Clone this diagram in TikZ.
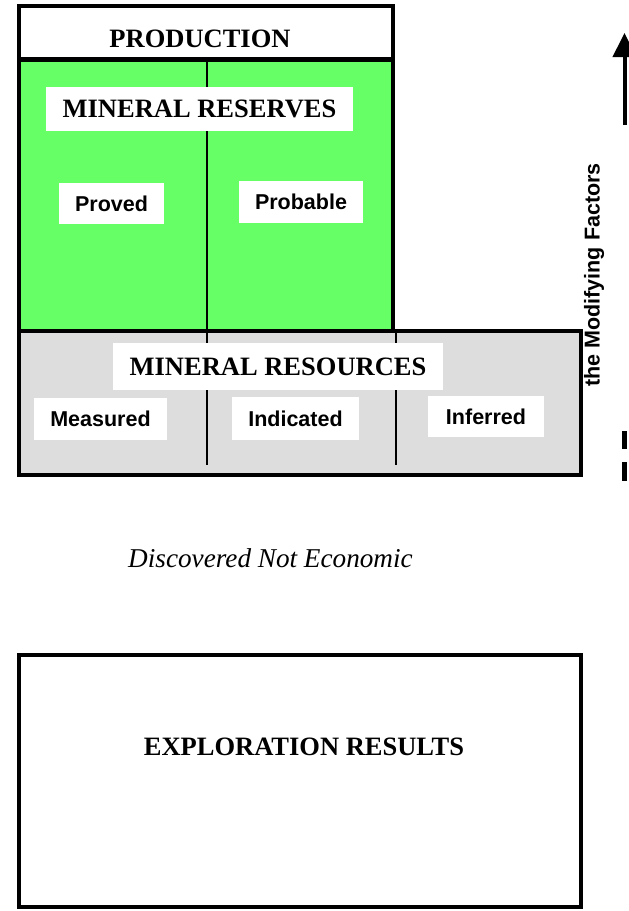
\documentclass[tikz,border=0pt]{standalone}
\usepackage{fontspec}
\setmainfont{Liberation Serif}
\setsansfont{Liberation Sans}
\usetikzlibrary{arrows.meta}
\definecolor{resgreen}{HTML}{66FF66}
\definecolor{resgray}{HTML}{DDDDDD}
\tikzset{
  thickbox/.style={draw=black,line width=4.5pt},
  thinline/.style={draw=black,line width=1.3pt},
  whitebox/.style={fill=white,inner sep=0pt,outer sep=0pt},
  bigtitle/.style={font=\fontsize{26.5}{30}\selectfont\bfseries},
  smalllabel/.style={font=\fontsize{21.5}{25}\selectfont\sffamily\bfseries},
}
\begin{document}
\begin{tikzpicture}[x=1pt,y=-1pt]
\useasboundingbox (0,0) rectangle (629,911);
% fills
\fill[resgreen] (19,60) rectangle (393,331);
\fill[resgray] (19,331) rectangle (581,475);
% dividers
\draw[thinline] (207,60) -- (207,465);
\draw[thinline] (396,331) -- (396,465);
% white label boxes
\node[whitebox,minimum width=307pt,minimum height=44pt,bigtitle] (reserves) at (199.5,109) {MINERAL RESERVES};
\node[whitebox,minimum width=105pt,minimum height=41pt,smalllabel] (proved) at (111.5,203.5) {Proved};
\node[whitebox,minimum width=124pt,minimum height=42pt,smalllabel] (probable) at (301,202) {Probable};
\node[whitebox,minimum width=330pt,minimum height=47pt,bigtitle] (resources) at (278,366.5) {MINERAL RESOURCES};
\node[whitebox,minimum width=133pt,minimum height=42pt,smalllabel] (measured) at (100.5,419) {Measured};
\node[whitebox,minimum width=127pt,minimum height=43pt,smalllabel] (indicated) at (295.5,418.5) {Indicated};
\node[whitebox,minimum width=116pt,minimum height=41pt,smalllabel] (inferred) at (486,416.5) {Inferred};
% borders
\draw[thickbox] (19,6) rectangle (393,331);
\draw[thickbox] (19,59.5) -- (393,59.5);
\draw[thickbox] (19,331) rectangle (581,475);
\draw[thickbox] (19,655) rectangle (581,907);
% texts
\node[bigtitle,anchor=base] (production) at (200,47) {PRODUCTION};
\node[font=\fontsize{27.2}{31}\selectfont\itshape,anchor=base] (discovered) at (270.5,567) {Discovered Not Economic};
\node[bigtitle,anchor=base] (exploration) at (304,755) {EXPLORATION RESULTS};
% modifying factors
\node[smalllabel,rotate=90] (modifying) at (594,275) {the Modifying Factors};
\coordinate (arrowlow) at (624.5,125);
\coordinate (arrowtop) at (624.5,33);
\draw[line width=4pt,-{Triangle[length=24pt,width=23pt]}] (arrowlow) -- (arrowtop);
\coordinate (dasha1) at (624.5,431);
\coordinate (dasha2) at (624.5,449);
\coordinate (dashb1) at (624.5,462);
\coordinate (dashb2) at (624.5,481);
\draw[line width=4.5pt] (dasha1) -- (dasha2);
\draw[line width=4.5pt] (dashb1) -- (dashb2);
\end{tikzpicture}
\end{document}
